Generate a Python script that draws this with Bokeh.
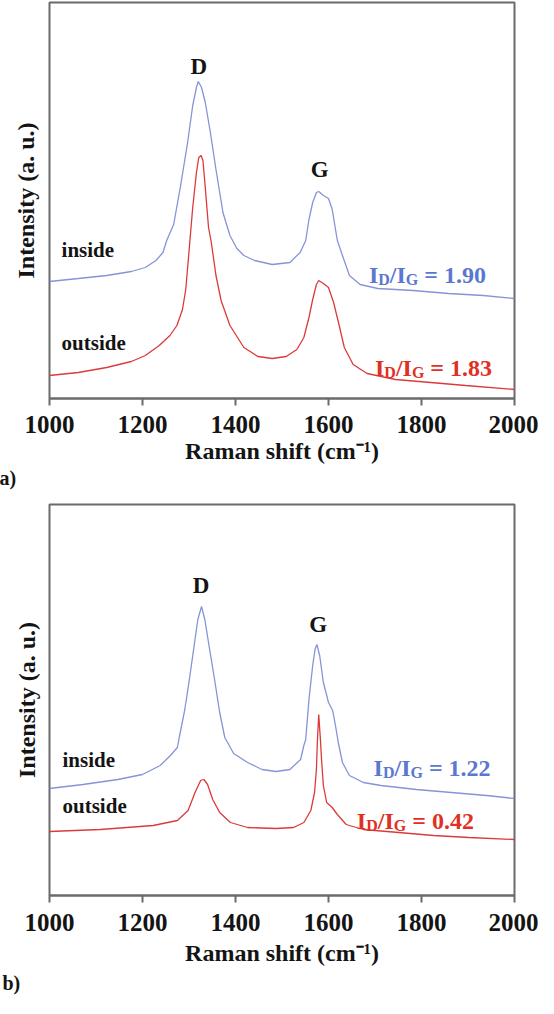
from bokeh.plotting import figure
from bokeh.layouts import column
from bokeh.models import Range1d, FixedTicker, Label, Title
from bokeh.embed import file_html
from bokeh.resources import INLINE

FONT = "Liberation Serif"
BLUE_LINE = "#8694d6"
RED_LINE = "#dc3a3a"
BLUE_TXT = "#5a78cf"
RED_TXT = "#e1301f"
FRAME = "#6b6b6b"
INK = "#141414"

raman_ticks = [1000, 1200, 1400, 1600, 1800, 2000]

# ---- panel a) ----
a_inside_x = [1000, 1062, 1123, 1176, 1206, 1229, 1244, 1252, 1267, 1282, 1297, 1308, 1316, 1320, 1327,
              1335, 1346, 1358, 1373, 1388, 1403, 1418, 1441, 1479, 1517, 1539, 1551, 1558, 1566, 1574,
              1579, 1589, 1600, 1608, 1619, 1630, 1645, 1668, 1706, 1782, 1858, 1933, 2000]
a_inside_y = [117, 120, 123, 127, 131, 138, 146, 158, 174, 213, 256, 293, 311, 317, 311,
              296, 266, 229, 186, 163, 150, 143, 138, 134, 136, 146, 158, 179, 196, 206,
              207, 203, 200, 189, 158, 143, 123, 114, 110, 108, 105, 103, 100]
a_outside_x = [1000, 1062, 1123, 1176, 1206, 1236, 1259, 1274, 1286, 1293, 1298, 1302, 1308, 1316, 1321,
               1326, 1330, 1335, 1342, 1348, 1358, 1369, 1388, 1418, 1448, 1479, 1509, 1532, 1547, 1558,
               1566, 1574, 1579, 1589, 1600, 1611, 1623, 1634, 1653, 1683, 1744, 1820, 1895, 2000]
a_outside_y = [23, 26, 31, 37, 43, 53, 63, 73, 89, 109, 136, 158, 191, 226, 241,
               243, 238, 211, 171, 156, 123, 98, 73, 51, 42, 40, 42, 49, 61, 81,
               99, 114, 118, 115, 111, 96, 73, 51, 34, 25, 19, 16, 13, 9]
a_ratio_inside = "1.90"
a_ratio_outside = "1.83"

# ---- panel b) ----
b_inside_x = [1000, 1072, 1147, 1200, 1238, 1260, 1275, 1279, 1291, 1302, 1312, 1319, 1327, 1334, 1343,
              1355, 1366, 1377, 1396, 1426, 1457, 1487, 1517, 1540, 1547, 1551, 1558, 1566, 1571, 1575,
              1581, 1589, 1600, 1609, 1615, 1621, 1630, 1645, 1675, 1713, 1789, 1864, 1940, 2000]
b_inside_y = [107, 111, 116, 121, 130, 140, 148, 158, 186, 220, 253, 276, 289, 276, 250,
              216, 183, 158, 142, 133, 126, 124, 126, 136, 150, 156, 196, 230, 246, 251,
              240, 213, 193, 185, 170, 153, 133, 120, 113, 110, 106, 103, 100, 97]
b_outside_x = [1000, 1109, 1223, 1275, 1298, 1313, 1325, 1332, 1340, 1351, 1366, 1389, 1426, 1487, 1525,
               1547, 1562, 1570, 1574, 1576, 1579, 1583, 1585, 1589, 1596, 1608, 1619, 1638, 1675, 1751,
               1826, 1902, 2000]
b_outside_y = [64, 66, 70, 75, 85, 103, 115, 116, 111, 96, 83, 73, 68, 67, 68,
               73, 85, 103, 126, 153, 181, 153, 136, 110, 93, 88, 81, 71, 66, 63,
               60, 58, 56]
b_ratio_inside = "1.22"
b_ratio_outside = "0.42"

NB = "\u00a0"


def txt(p, x, y, text, size, color=INK, align="left", baseline="middle", xo=0, yo=0):
    p.add_layout(Label(x=x, y=y, text=text, text_font=FONT, text_font_style="bold",
                       text_font_size=f"{size}px", text_color=color, text_align=align,
                       text_baseline=baseline, x_offset=xo, y_offset=yo))


def ratio_label(p, x, y, val, color, size=24, sub=16):
    pieces = [("I", size, 0, 0.389), ("D", sub, -5, 0.722), ("/I", size, 0, 0.667),
              ("G", sub, -5, 0.778), (NB + "=" + NB + val, size, 0, 0)]
    off = 0.0
    for t, s, yo, w in pieces:
        txt(p, x, y, t, s, color=color, baseline="alphabetic", xo=off, yo=yo)
        off += w * s


def under_title(p, text, size, align, offset, standoff):
    p.add_layout(Title(text=text, align=align, offset=offset, standoff=standoff,
                       text_font=FONT, text_font_style="bold", text_font_size=f"{size}px",
                       text_color=INK), "below")


def make_panel(height, left, right, top, bottom, ymax, ins_x, ins_y, out_x, out_y,
               ystand, lstand):
    p = figure(width=538, height=height, output_backend="svg", toolbar_location=None,
               x_range=Range1d(1000, 2000), y_range=Range1d(0, ymax),
               min_border_left=left, min_border_right=right,
               min_border_top=top, min_border_bottom=bottom)
    p.background_fill_color = "white"
    p.border_fill_color = "white"
    p.outline_line_color = FRAME
    p.outline_line_width = 2
    p.grid.visible = False

    p.xaxis.ticker = FixedTicker(ticks=raman_ticks)
    p.xaxis.minor_tick_line_color = None
    p.xaxis.major_tick_in = 0
    p.xaxis.major_tick_out = 7
    p.xaxis.major_tick_line_color = FRAME
    p.xaxis.major_tick_line_width = 2
    p.xaxis.axis_line_color = FRAME
    p.xaxis.axis_line_width = 2
    p.xaxis.major_label_text_font = FONT
    p.xaxis.major_label_text_font_style = "bold"
    p.xaxis.major_label_text_font_size = "25px"
    p.xaxis.major_label_text_color = INK
    p.xaxis.major_label_standoff = lstand

    p.yaxis.ticker = FixedTicker(ticks=[])
    p.yaxis.minor_tick_line_color = None
    p.yaxis.major_tick_line_color = None
    p.yaxis.major_tick_out = 0
    p.yaxis.major_tick_in = 0
    p.yaxis.axis_line_color = None
    p.yaxis.axis_label = "Intensity (a. u.)"
    p.yaxis.axis_label_text_font = FONT
    p.yaxis.axis_label_text_font_style = "bold"
    p.yaxis.axis_label_text_font_size = "24px"
    p.yaxis.axis_label_text_color = INK
    p.yaxis.axis_label_standoff = ystand

    p.line(ins_x, ins_y, line_color=BLUE_LINE, line_width=1.3)
    p.line(out_x, out_y, line_color=RED_LINE, line_width=1.3)
    return p


RAMAN = "Raman shift (cm\u207b\u00b9)"

pa = make_panel(493, 49, 19, 2, 95, 396, a_inside_x, a_inside_y, a_outside_x, a_outside_y, 11, 10)
txt(pa, 1321, 332, "D", 23, align="center")
txt(pa, 1581, 229, "G", 23, align="center")
txt(pa, 1026, 149, "inside", 21)
txt(pa, 1026, 56, "outside", 21)
ratio_label(pa, 1687, 124, a_ratio_inside, BLUE_TXT)
ratio_label(pa, 1700, 31, a_ratio_outside, RED_TXT)
under_title(pa, RAMAN, 24, "center", 28, 1)
under_title(pa, "a)", 20, "left", -50, 0)

pb = make_panel(504, 46, 24, 11, 102, 391, b_inside_x, b_inside_y, b_outside_x, b_outside_y, 10, 11)
txt(pb, 1326, 310, "D", 23, align="center")
txt(pb, 1578, 271, "G", 23, align="center")
txt(pb, 1028, 136, "inside", 21)
txt(pb, 1028, 90, "outside", 21)
ratio_label(pb, 1697, 128, b_ratio_inside, BLUE_TXT)
ratio_label(pb, 1661, 75, b_ratio_outside, RED_TXT)
under_title(pb, RAMAN, 24, "center", 30, 8)
under_title(pb, "b)", 20, "left", -47, 0)

layout = column(pa, pb, spacing=0)
open("out.html", "w").write(file_html(layout, INLINE))
